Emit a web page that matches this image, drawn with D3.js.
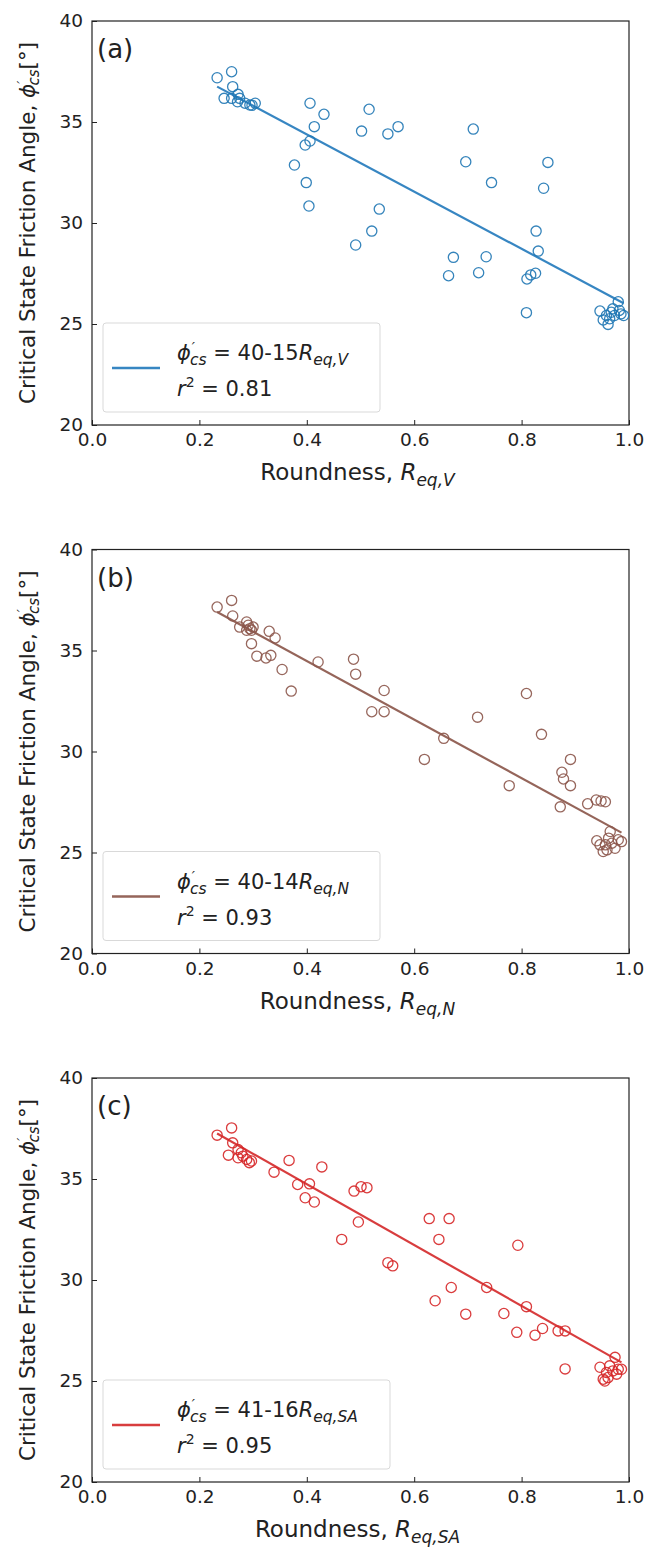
<!DOCTYPE html>
<html>
<head>
<meta charset="utf-8">
<script src="https://cdn.jsdelivr.net/npm/d3@7"></script>
<style>
  body { margin: 0; background: #fff; }
  svg { display: block; font-family: "DejaVu Sans", sans-serif; }
</style>
</head>
<body>
<div class="container"></div>
<script>
// Roundness vs critical state friction angle, three roundness definitions.
const roundA = [0.233, 0.260, 0.262, 0.246, 0.272, 0.260, 0.275, 0.271, 0.285, 0.294, 0.304, 0.298,
  0.406, 0.432, 0.414, 0.406, 0.397, 0.377, 0.399, 0.404, 0.516, 0.502, 0.551, 0.570, 0.535, 0.521, 0.491,
  0.710, 0.696, 0.744, 0.849, 0.841, 0.827, 0.831, 0.673, 0.734, 0.664, 0.720, 0.826, 0.817, 0.810, 0.809,
  0.946, 0.980, 0.952, 0.961, 0.967, 0.973, 0.985, 0.958, 0.970, 0.982, 0.964, 0.990];
const phiA = [37.19, 37.49, 36.75, 36.17, 36.37, 36.17, 36.17, 36.00, 35.93, 35.84, 35.93, 35.83,
  35.93, 35.38, 34.77, 34.06, 33.86, 32.87, 32.00, 30.84, 35.63, 34.55, 34.41, 34.77, 30.69, 29.60, 28.91,
  34.65, 33.03, 32.00, 33.00, 31.72, 29.60, 28.61, 28.30, 28.33, 27.39, 27.54, 27.51, 27.43, 27.23, 25.56,
  25.64, 26.10, 25.20, 24.98, 25.58, 25.42, 25.50, 25.42, 25.75, 25.67, 25.26, 25.42];

const roundB = [0.233, 0.260, 0.262, 0.275, 0.288, 0.291, 0.294, 0.297, 0.288, 0.300, 0.297, 0.330, 0.341,
  0.307, 0.324, 0.333, 0.354, 0.371, 0.421, 0.487, 0.491, 0.544, 0.521, 0.544, 0.655, 0.619, 0.718, 0.809,
  0.837, 0.891, 0.875, 0.878, 0.891, 0.777, 0.872, 0.923, 0.939, 0.948, 0.956,
  0.940, 0.952, 0.956, 0.962, 0.968, 0.974, 0.965, 0.980, 0.986, 0.946, 0.959];
const phiB = [37.15, 37.48, 36.71, 36.16, 36.41, 36.25, 36.08, 36.00, 36.00, 36.16, 35.34, 35.95, 35.62,
  34.72, 34.63, 34.76, 34.06, 32.99, 34.43, 34.57, 33.83, 33.02, 31.97, 31.97, 30.65, 29.61, 31.70, 32.87,
  30.85, 29.61, 28.97, 28.64, 28.31, 28.31, 27.26, 27.41, 27.60, 27.55, 27.51,
  25.58, 25.05, 25.38, 25.71, 25.46, 25.21, 26.04, 25.63, 25.54, 25.38, 25.13];

const roundC = [0.233, 0.260, 0.262, 0.254, 0.272, 0.278, 0.281, 0.272, 0.288, 0.297, 0.293, 0.367, 0.428,
  0.339, 0.383, 0.405, 0.397, 0.414, 0.488, 0.501, 0.512, 0.496, 0.465, 0.551, 0.560, 0.628, 0.665, 0.646,
  0.793, 0.669, 0.639, 0.735, 0.696, 0.767, 0.809, 0.791, 0.825, 0.839, 0.868, 0.881, 0.881,
  0.946, 0.974, 0.952, 0.958, 0.964, 0.970, 0.980, 0.986, 0.961, 0.977, 0.955];
const phiC = [37.17, 37.53, 36.79, 36.18, 36.46, 36.30, 36.13, 36.05, 35.97, 35.89, 35.81, 35.92, 35.60,
  35.34, 34.73, 34.76, 34.07, 33.86, 34.40, 34.62, 34.57, 32.87, 32.01, 30.86, 30.70, 33.04, 33.04, 32.01,
  31.72, 29.63, 28.97, 29.63, 28.31, 28.34, 28.68, 27.41, 27.27, 27.60, 27.48, 27.48, 25.60,
  25.68, 26.17, 25.09, 25.42, 25.75, 25.50, 25.58, 25.58, 25.17, 25.34, 25.00];

// fitted lines (intercept, slope) as drawn, legend text rounds them
const fitIntercept = [40.05, 40.28, 40.76];
const fitSlope = [-14.16, -14.50, -15.05];

const panelTags = ["(a)", "(b)", "(c)"];
const subscripts = ["eq,V", "eq,N", "eq,SA"];
const eqConst = ["40-15", "40-14", "41-16"];
const rSquared = ["0.81", "0.93", "0.95"];
const colors = ["#1f77b4", "#8c564b", "#d62728"];
const lineColors = ["#3786c2", "#95655a", "#d83d3e"];

const xTicks = [0.0, 0.2, 0.4, 0.6, 0.8, 1.0];
const yTicks = [20, 25, 30, 35, 40];

const panels = [
  { x: roundA, y: phiA },
  { x: roundB, y: phiB },
  { x: roundC, y: phiC }
];

const width = 647, height = 1554;
const plotLeft = 92, plotW = 537, plotH = 404;
const panelTops = [21, 549.5, 1078];

const svg = d3.select(".container").append("svg")
  .attr("width", width)
  .attr("height", height);

const x = d3.scaleLinear().domain([0, 1]).range([0, plotW]);
const y = d3.scaleLinear().domain([20, 40]).range([plotH, 0]);

panels.forEach((p, i) => {
  const g = svg.append("g").attr("transform", `translate(${plotLeft},${panelTops[i]})`);

  // axes with inward ticks
  const xAxis = g.append("g").attr("transform", `translate(0,${plotH})`)
    .call(d3.axisBottom(x).tickValues(xTicks).tickFormat(d3.format(".1f")).tickSizeInner(-5).tickSizeOuter(0).tickPadding(8));
  const yAxis = g.append("g")
    .call(d3.axisLeft(y).tickValues(yTicks).tickFormat(d3.format("d")).tickSizeInner(-5).tickSizeOuter(0).tickPadding(9));
  [xAxis, yAxis].forEach(a => {
    a.select(".domain").remove();
    a.selectAll(".tick line").attr("stroke", "#222").attr("stroke-width", 1);
    a.selectAll(".tick text").attr("fill", "#222").style("font-size", "18.5px").style("font-family", "DejaVu Sans");
  });

  // frame
  g.append("rect")
    .attr("width", plotW).attr("height", plotH)
    .attr("fill", "none").attr("stroke", "#222").attr("stroke-width", 1.2);

  // fitted line over the data range
  const [x0, x1] = d3.extent(p.x);
  const fitLine = d3.line().x(d => x(d)).y(d => y(fitIntercept[i] + fitSlope[i] * d));
  g.append("path")
    .datum([x0, x1])
    .attr("d", fitLine)
    .attr("fill", "none")
    .attr("stroke", lineColors[i])
    .attr("stroke-width", 2.2);

  // open circles
  g.append("g")
    .selectAll("circle")
    .data(p.x.map((v, k) => [v, p.y[k]]))
    .join("circle")
    .attr("cx", d => x(d[0]))
    .attr("cy", d => y(d[1]))
    .attr("r", 5.1)
    .attr("fill", "none")
    .attr("stroke", colors[i])
    .attr("stroke-width", 1.3)
    .attr("opacity", 0.9);

  // panel tag
  g.append("text")
    .attr("x", 5).attr("y", 37)
    .style("font-size", "26px")
    .attr("fill", "#222")
    .text(panelTags[i]);

  // legend
  const legW = i === 2 ? 287 : 277;
  const leg = g.append("g").attr("transform", `translate(11,${302})`);
  leg.append("rect")
    .attr("width", legW).attr("height", 89)
    .attr("rx", 3)
    .attr("fill", "#fff")
    .attr("stroke", "#d9d9d9")
    .attr("stroke-width", 1);
  leg.append("line")
    .attr("x1", 9).attr("x2", 57)
    .attr("y1", 45).attr("y2", 45)
    .attr("stroke", lineColors[i])
    .attr("stroke-width", 2.4);

  const t1 = leg.append("text").attr("x", 74).attr("y", 37)
    .style("font-size", "21px").attr("fill", "#222");
  t1.append("tspan").style("font-style", "italic").text("ϕ");
  t1.append("tspan").style("font-style", "italic").attr("dx", 1).attr("dy", -8).style("font-size", "14px").text("′");
  t1.append("tspan").style("font-style", "italic").attr("dx", -5).attr("dy", 13).style("font-size", "15.5px").text("cs");
  t1.append("tspan").attr("dy", -5).text(" = " + eqConst[i]);
  t1.append("tspan").style("font-style", "italic").text("R");
  t1.append("tspan").style("font-style", "italic").attr("dy", 5).style("font-size", "15.5px").text(subscripts[i]);

  const t2 = leg.append("text").attr("x", 74).attr("y", 73)
    .style("font-size", "21px").attr("fill", "#222");
  t2.append("tspan").style("font-style", "italic").text("r");
  t2.append("tspan").attr("dy", -9).style("font-size", "14px").text("2");
  t2.append("tspan").attr("dy", 9).text(" = " + rSquared[i]);

  // x title
  const xt = g.append("text")
    .attr("x", plotW / 2 - 3).attr("y", plotH + 55)
    .attr("text-anchor", "middle")
    .style("font-size", "23px").attr("fill", "#222");
  xt.append("tspan").text("Roundness, ");
  xt.append("tspan").style("font-style", "italic").text("R");
  xt.append("tspan").style("font-style", "italic").attr("dy", 6).style("font-size", "17px").text(subscripts[i]);

  // y title
  const yt = g.append("text")
    .attr("transform", `translate(-57,${plotH / 2}) rotate(-90)`)
    .attr("text-anchor", "middle")
    .style("font-size", "21.5px").attr("fill", "#222");
  yt.append("tspan").text("Critical State Friction Angle, ");
  yt.append("tspan").style("font-style", "italic").text("ϕ");
  yt.append("tspan").style("font-style", "italic").attr("dy", -8).style("font-size", "14px").text("′");
  yt.append("tspan").style("font-style", "italic").attr("dx", -5).attr("dy", 12).style("font-size", "15px").text("cs");
  yt.append("tspan").attr("dy", -4).text("[°]");
});
</script>
</body>
</html>
